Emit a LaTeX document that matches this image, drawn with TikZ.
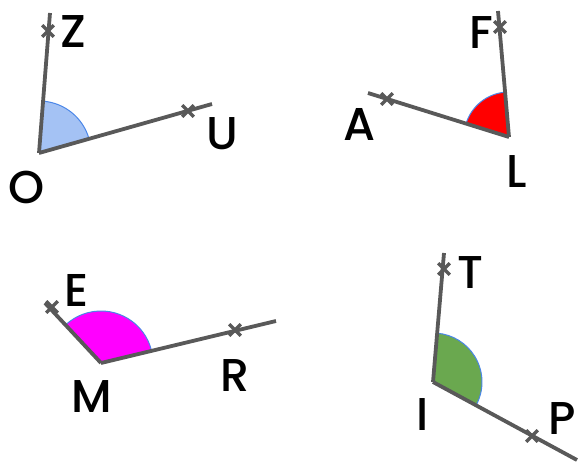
\documentclass[tikz,border=0pt]{standalone}
\usepackage{fontspec}
\newfontfamily\lblfont{Poppins}[UprightFont=* Medium]
\usetikzlibrary{shapes.misc}
\definecolor{raygray}{HTML}{595959}
\definecolor{arcblue}{HTML}{4A86E8}
\definecolor{fillblue}{HTML}{A4C2F4}
\definecolor{fillred}{HTML}{FF0000}
\definecolor{fillmag}{HTML}{FF00FF}
\definecolor{fillgreen}{HTML}{6AA84F}
\tikzset{
  ray/.style={draw=raygray, line width=3.8pt},
  tick/.style={cross out, draw=raygray, line width=3.2pt, minimum size=8.5pt, inner sep=0pt},
  lbl/.style={font=\lblfont\fontsize{46}{46}\selectfont, inner sep=0pt},
  arcline/.style={draw=arcblue, line width=1pt},
}
\begin{document}
\begin{tikzpicture}[x=1pt,y=1pt]
\useasboundingbox (0,-462) rectangle (579,0);
% ---------- angle ZOU ----------
\coordinate (O) at (39,-153);
\coordinate (Ze) at (50,-13);
\coordinate (Ue) at (212,-104);
\fill[fillblue] (O) -- ++(15.8:52) arc[start angle=15.8, end angle=85.5, radius=52] -- cycle;
\draw[arcline] ([shift={(15.8:52)}]O) arc[start angle=15.8, end angle=85.5, radius=52];
\draw[ray] (O) -- (Ze);
\draw[ray] (O) -- (Ue);
\node[tick] (zt) at (48,-31) {};
\node[tick] (ut) at (188,-111) {};
\node[lbl] (Z) at (73,-32) {Z};
\node[lbl] (U) at (222,-134) {U};
\node[lbl] (Ol) at (27,-187) {O};
% ---------- angle FLA ----------
\coordinate (L) at (509,-137);
\coordinate (Fe) at (498,-11);
\coordinate (Ae) at (368,-93);
\fill[fillred] (L) -- ++(95:45) arc[start angle=95, end angle=162.7, radius=45] -- cycle;
\draw[arcline] ([shift={(95:45)}]L) arc[start angle=95, end angle=162.7, radius=45];
\draw[ray] (L) -- (Fe);
\draw[ray] (L) -- (Ae);
\node[tick] (ft) at (500,-27) {};
\node[tick] (at) at (387,-99) {};
\node[lbl] (F) at (481,-33) {F};
\node[lbl] (A) at (360,-124) {A};
\node[lbl] (Ll) at (517,-172) {L};
% ---------- angle EMR ----------
\coordinate (M) at (101,-363);
\coordinate (Ee) at (45,-303);
\coordinate (Re) at (276,-321);
\fill[fillmag] (M) -- ++(13.5:52) arc[start angle=13.5, end angle=133, radius=52] -- cycle;
\draw[arcline] ([shift={(13.5:52)}]M) arc[start angle=13.5, end angle=133, radius=52];
\draw[ray] (M) -- (Ee);
\draw[ray] (M) -- (Re);
\node[tick] (et) at (52,-307) {};
\node[tick] (rt) at (235,-330) {};
\node[lbl] (E) at (77,-290) {E};
\node[lbl] (Ml) at (92,-397) {M};
\node[lbl] (R) at (235,-376) {R};
% ---------- angle TIP ----------
\coordinate (I) at (433,-382);
\coordinate (Te) at (444,-253);
\coordinate (Pe) at (577,-460);
\fill[fillgreen] (I) -- ++(-28.4:49) arc[start angle=-28.4, end angle=85.1, radius=49] -- cycle;
\draw[arcline] ([shift={(-28.4:49)}]I) arc[start angle=-28.4, end angle=85.1, radius=49];
\draw[ray] (I) -- (Te);
\draw[ray] (I) -- (Pe);
\node[tick] (tt) at (444,-269) {};
\node[tick] (pt) at (532,-436) {};
\node[lbl] (T) at (470,-273) {T};
\node[lbl] (Il) at (423,-415) {I};
\node[lbl] (P) at (562,-419) {P};
\end{tikzpicture}
\end{document}
